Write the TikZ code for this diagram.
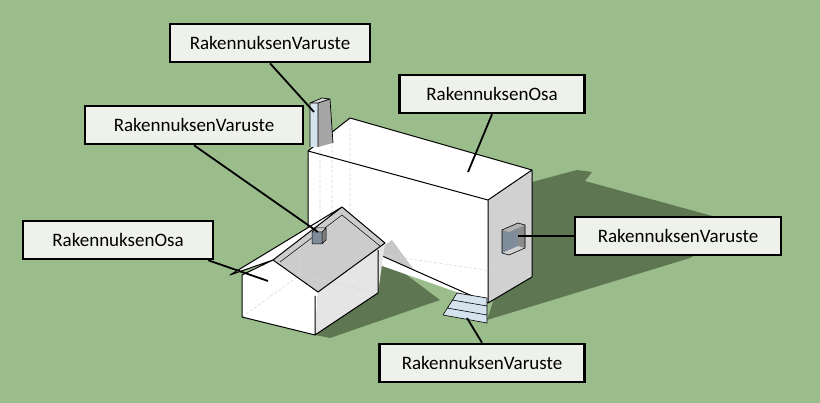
\documentclass[tikz,border=0pt]{standalone}
\usepackage{fontspec}
\setmainfont{Carlito}
\begin{document}
\begin{tikzpicture}[x=1pt,y=-1pt,
  lbl/.style={draw=black,line width=2.6pt,fill=labelbg,minimum height=38pt,minimum width=200pt,font=\fontsize{19}{21}\selectfont,inner xsep=10pt},
  ptr/.style={line width=1.8pt},
  edge/.style={line width=1pt,line join=round},
  hid/.style={densely dashed,draw=black!15,line width=0.6pt}]
\definecolor{bgc}{HTML}{9BBD8B}
\definecolor{shadowc}{HTML}{5E7752}
\definecolor{labelbg}{HTML}{EEF2EA}
\definecolor{equip}{HTML}{7F8C99}
\definecolor{lblue}{HTML}{D4E3EE}
\fill[bgc] (0,0) rectangle (820,403);
\useasboundingbox (0,0) rectangle (820,403);
% ground shadows
\fill[shadowc] (532,182) -- (577,170) -- (592,172) -- (585,181) -- (745,225) -- (690,258) -- (487,320) -- cycle;
\fill[shadowc] (378,293) -- (315,335) -- (330,338) -- (440,300) -- (380,255) -- cycle;
% big box
\fill[white] (308,151) -- (350,118) -- (532,170) -- (488,200) -- cycle;
\fill[white] (308,151) -- (488,200) -- (488,303) -- (308,240) -- cycle;
\fill[black!18] (488,200) -- (532,170) -- (532,277) -- (488,303) -- cycle;
\begin{scope}
\clip (308,151) -- (488,200) -- (488,303) -- (308,222) -- cycle;
\fill[black!22] (378,250) -- (392,240) -- (440,305) -- (378,275) -- cycle;
\end{scope}
\draw[hid] (350,118) -- (350,250) (350,250) -- (532,277) (332,130) -- (332,240) (320,140) -- (320,250);
\draw[edge] (308,240) -- (308,151) -- (350,118) -- (532,170) -- (488,200) -- (308,151)
  (488,200) -- (488,303) -- (532,277) -- (532,170) (488,303) -- (380,255);
% chimney
\fill[lblue] (310,103) rectangle (318,147);
\fill[black!35] (318,103) -- (330,99) -- (333,143) -- (318,147) -- cycle;
\fill[black!15] (310,103) -- (322,98) -- (330,99) -- (318,103) -- cycle;
\draw[line width=0.7pt] (310,147) -- (310,103) -- (322,98) -- (330,99) -- (333,143) (310,103) -- (318,103) -- (318,147) (318,103) -- (330,99);
% house
\fill[white] (242,275) -- (273,260) -- (318,292) -- (315,335) -- (242,317) -- cycle;
\fill[black!10] (318,292) -- (385,243) -- (378,293) -- (315,335) -- cycle;
\fill[black!20] (273,260) -- (342,207) -- (385,243) -- (318,292) -- cycle;
\fill[white] (230,275) -- (342,207) -- (273,260) -- cycle;
\draw[hid] (242,317) -- (300,275) -- (378,293) (300,275) -- (300,240);
\draw[edge] (242,275) -- (242,317) -- (315,335) -- (378,293) -- (378,250)
  (315,335) -- (315,296) (230,275) -- (273,260) -- (318,292) -- (385,243) -- (342,207) -- cycle
  (273,260) -- (342,207) (242,275) -- (273,260);
\draw[line width=0.5pt] (280,262) -- (342,215) -- (380,246);
% roof vent
\fill[equip] (312,232) rectangle (322,244);
\fill[black!20] (312,232) -- (316,228) -- (326,228) -- (322,232) -- cycle;
\fill[black!50] (322,232) -- (326,228) -- (326,240) -- (322,244) -- cycle;
\draw[line width=0.5pt] (312,232) rectangle (322,244) (312,232) -- (316,228) -- (326,228) -- (326,240) -- (322,244) (322,232) -- (326,228);
% wall panel
\fill[equip] (502,230) -- (518,223) -- (518,246) -- (502,253) -- cycle;
\fill[black!45] (518,223) -- (525,225) -- (525,248) -- (518,246) -- cycle;
\fill[black!30] (502,230) -- (518,223) -- (525,225) -- (509,232) -- cycle;
\draw[line width=0.6pt] (502,230) -- (518,223) -- (525,225) -- (525,248) -- (509,255) -- (502,253) -- cycle;
% stairs
\fill[lblue] (443,315) -- (487,323) -- (487,298) -- (457,293) -- cycle;
\draw[line width=0.6pt] (443,315) -- (487,323) -- (487,298) -- (457,293) -- cycle
  (447,308) -- (487,315) (452,300) -- (487,306);
% labels
\node[lbl] (l1) at (270,43) {RakennuksenVaruste};
\node[lbl,minimum width=185pt] (l2) at (492,94) {RakennuksenOsa};
\node[lbl,minimum width=218pt] (l3) at (194,125) {RakennuksenVaruste};
\node[lbl,minimum width=190pt] (l4) at (118,240) {RakennuksenOsa};
\node[lbl,minimum width=206pt] (l5) at (678,236) {RakennuksenVaruste};
\node[lbl,minimum width=205pt] (l6) at (482,363) {RakennuksenVaruste};
\coordinate (c1) at (314,112);
\coordinate (c2) at (468,172);
\coordinate (c3) at (318,232);
\coordinate (c4) at (268,281);
\coordinate (c5) at (518,236);
\coordinate (c6) at (467,318);
\draw[ptr] (l1.south) -- (c1);
\draw[ptr] (l2.south) -- (c2);
\draw[ptr] (l3.south) -- (c3);
\draw[ptr] (l4.south east) ++(-6,0) -- (c4);
\draw[ptr] (l5.west) -- (c5);
\draw[ptr] (l6.north) -- (c6);
\end{tikzpicture}
\end{document}
